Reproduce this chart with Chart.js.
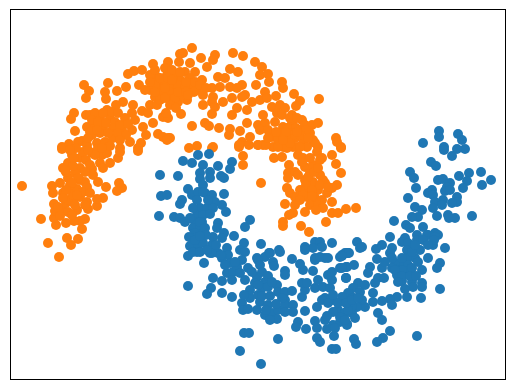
<!DOCTYPE html>
<html><head><meta charset="utf-8">
<script src="https://cdn.jsdelivr.net/npm/chart.js@4"></script>
<style>html,body{margin:0;padding:0;background:#fff}canvas{display:block}</style></head>
<body><canvas id="c" width="515" height="389"></canvas>
<script>
const orangePts=`84,85 89,91 86,98 108,83 105,92 106,99 128,74 134,71 142,70 153,64 168,62 180,54 139,85 126,87 117,91 123,102 116,105 74,113 71,119 86,115 90,115 75,131 107,110 100,118 110,118 115,122 87,127 95,125 103,127 113,128 122,130 133,105 132,113 135,120 142,111 150,105 148,113 153,123 143,127 132,130 146,135 141,143 130,142 158,134 168,138 163,137 163,117 168,118 166,113 62,147 69,144 82,141 87,145 97,143 105,142 113,138 100,133 92,135 120,148 138,148 157,77 167,75 160,87 170,87 177,80 155,97 163,95 173,97 180,93 157,105
22,186 52,186 53,193 41,219 48,243 59,257 67,238 78,239 71,245 82,229 85,219 80,221 74,221 66,223 56,225 54,218 55,211 54,204 63,210 66,203 63,193 70,190 77,189 80,197 73,202 77,210 87,202 88,209 97,206 103,198 97,199 98,182 106,187 119,183 122,188 117,191 68,178 70,185 80,180 85,182 87,187 63,168 68,163 80,168 72,155 80,158 75,173 92,169 100,163 103,168 110,163 118,158 102,155 120,152 138,151 62,149 83,152 92,153 107,153 68,200 58,207 73,195 83,192
192,48 183,53 201,58 179,62 215,55 213,60 233,53 243,56 255,62 262,67 230,69 238,72 260,75 268,74 269,82 282,82 283,88 256,85 294,94 300,101 296,106 319,99 265,92 276,96 190,63 207,67 185,72 195,72 218,77 225,78 202,80 192,85 180,80 173,77 172,87 180,92 187,100 178,102 181,114 172,103 212,88 220,87 230,87 242,85 237,88 245,95 197,90 203,95 213,97 223,102 232,98 242,97 252,102 260,100 267,98 203,105 212,102 215,107 212,114 232,115 237,108 247,110 272,107 280,105 285,108 277,113 282,115 292,115 263,115 205,123 209,126 192,126 219,128 247,123 230,129 240,131 229,135 250,137 242,142 239,147 258,125 265,123 260,130 268,130 272,137 263,145 258,145 283,127 292,123 302,120 305,125 300,130 290,133 282,133 278,140 287,138 295,138 303,143 312,125 318,123 310,133 313,140 318,147 283,147 293,147 273,147 336,138 341,147 213,147 197,146 189,148 170,138
150,75 155,85 160,92 165,82 170,92 175,98 178,85 185,88 190,78 195,82 183,95 160,100 170,105 150,90 165,68
167,140 212,148 239,145 249,145 258,145 266,145 243,156 243,165 261,183 274,158 282,157 278,147 287,148 297,147 307,147 315,143 317,152 322,158 332,155 341,148 337,142 336,164 341,173 289,165 288,173 295,172 288,178 305,167 313,165 320,160 310,173 320,175 305,180 313,182 323,180 325,183 287,188 290,193 307,190 315,190 318,190 337,185 332,188 327,193 307,197 315,198 322,200 295,197 295,205 285,204 310,205 318,205 323,208 332,202 332,213 338,213 346,209 356,208 326,222 293,213 289,215 283,222 283,226 301,226 309,232
95,113 103,113 112,112 118,113 125,118 92,120 98,122 106,123 120,125 128,124 90,132 97,130 108,133 118,133 126,135 120,140 110,146 98,148 88,138 78,142 76,148 70,150 74,158 66,172 73,166 86,160 90,165 93,175 85,172 78,178 72,183 77,195 90,193 66,190 60,183 63,198 75,205 85,205 68,212 60,216 72,215 65,170 95,155 88,150 102,148
155,70 172,70 180,72 160,78 168,78 150,82 145,90 155,92 165,98 178,92 186,82 194,92 200,85 206,88 186,92 176,108 188,95 165,88 172,80
290,118 297,118 275,122 287,128 296,128 306,130 276,132 286,132 300,135 308,138 290,143 300,147 268,138 283,140 297,132 298,155 303,158 310,158 302,162 298,175 308,177 314,172 318,168 306,185 312,190 320,185 300,190 303,195 312,196 328,187 300,200 316,210 305,212`;
const bluePts=`198,155 209,154 183,161 192,163 232,162 230,169 218,166 203,165 160,175 178,176 200,173 210,172 210,178 200,179 221,176 224,178 203,185 188,189 192,195 198,192 205,193 212,195 224,194 161,196 167,195 182,200 180,204 222,205 215,202 200,208 207,208 213,208 226,212 197,215 203,215 210,214 159,216 174,217 180,218 185,222 195,222 202,222 218,223 217,228 250,220 245,227 193,228 200,229 195,233 189,237 224,233 234,236 213,237 222,238 190,246 198,245 203,243 212,245 197,252 210,253 218,253 227,248 228,255 244,243 240,250 245,252 261,244 269,253 279,250 188,256 257,258 265,257 292,259 305,247 315,242 320,242 313,248 322,247 332,243 357,242 360,248 342,255 348,253 315,258 325,258
204,263 193,252 200,252 213,278 222,281 227,273 233,272 237,267 230,263 242,260 222,258 212,253 188,286 211,288 207,294 222,293 232,297 242,303 243,310 248,309 250,298 258,295 257,277 265,282 255,283 262,288 268,287 277,285 278,292 285,292 292,291 260,302 268,305 257,310 265,315 272,313 277,319 278,310 285,300 285,305 293,305 293,312 305,311 298,322 296,327 306,329 244,333 249,333 278,339 240,351 261,364 317,338 320,342 334,336 332,349 336,349 317,328 315,321 325,320 327,329 333,325 340,322 347,325 338,310 345,313 343,298 350,295 333,300 325,298 322,300 317,307 328,303 302,297 305,290 315,288 323,287 330,288 333,295 302,283 307,283 318,280 332,280 328,275 332,272 340,268 347,267 346,278 313,271 303,270 300,264 285,271 285,275 273,262 274,266 258,260 260,265 270,253 280,252 305,250 315,260 320,257 328,258 340,257 347,253
439,131 439,137 458,134 462,140 423,143 444,147 444,150 465,149 457,149 452,156 431,162 436,166 410,172 414,178 459,176 469,173 481,172 467,181 491,180 482,185 463,188 416,188 438,180 443,179 450,183 447,187 445,191 450,190 432,190 428,193 433,195 408,198 457,197 457,202 452,203 443,200 435,202 442,205 433,208 415,207 422,210 437,216 448,215 449,218 455,218 472,216 394,221 418,217 412,217 406,225 410,228 423,227 417,235 435,233 438,235 405,238 428,235
390,237 362,247 376,249 382,245 392,248 390,253 402,242 408,243 407,250 417,240 427,235 435,237 433,245 445,248 420,250 415,258 428,258 440,263 437,268 407,258 402,263 408,265 395,263 392,268 400,270 408,273 422,270 402,281 412,282 413,287 422,283 422,287 440,289 421,298 407,297 397,297 390,299 392,305 382,301 373,302 365,307 378,313 382,320 377,259 370,267 368,273 382,268 378,278 384,278 375,283 373,293 345,253 349,253 342,256 346,267 354,265 342,268 346,278 358,283 365,285 353,288 360,292 348,293 342,297 353,298 362,300 347,303 357,307 345,313 352,313 342,318 347,324 390,331 383,338 377,342 354,339 356,344 417,336
203,192 208,200 197,200 193,208 190,218 200,222 205,228 195,240 206,235 200,236 207,250 216,245 221,255 235,262 225,265 248,268 252,272 240,273 245,280 232,280 262,272 268,276 272,282 258,285 250,290 244,295 262,296 270,296 282,298 276,304 266,310 285,312 270,320 352,306 348,310 338,303 346,303 352,300 340,317 333,312 327,316 345,320 335,328 355,318 358,298 402,270 397,275 412,268 418,262 412,252 415,245 423,240 402,258 392,258 395,270 402,276 410,276 405,289 398,282 416,276 385,262 434,240 428,245`;
const toPoints=s=>s.trim().split(/\s+/).map(p=>{const [x,y]=p.split(',').map(Number);return {x,y};});
const orange=toPoints(orangePts), blue=toPoints(bluePts);
const frame={id:'frame',afterDraw(c){const a=c.chartArea,g=c.ctx;g.save();g.strokeStyle='#000';g.lineWidth=1;g.strokeRect(a.left,a.top,a.width,a.height);g.restore();}};
const axisOff={grid:{display:false,drawTicks:false,tickLength:0},ticks:{display:false,padding:0},border:{display:false}};
new Chart(document.getElementById('c'),{type:'scatter',
data:{datasets:[
{data:blue,backgroundColor:'#1f77b4',borderColor:'#1f77b4',pointRadius:5,borderWidth:0},
{data:orange,backgroundColor:'#ff7f0e',borderColor:'#ff7f0e',pointRadius:5,borderWidth:0}]},
options:{responsive:false,animation:false,
layout:{padding:{left:10.5,top:9.5,right:9.5,bottom:9.5}},
plugins:{legend:{display:false},tooltip:{enabled:false}},
scales:{x:{min:10.5,max:505.5,...axisOff},
y:{min:9.5,max:379.5,reverse:true,...axisOff}}},
plugins:[frame]});
</script></body></html>
